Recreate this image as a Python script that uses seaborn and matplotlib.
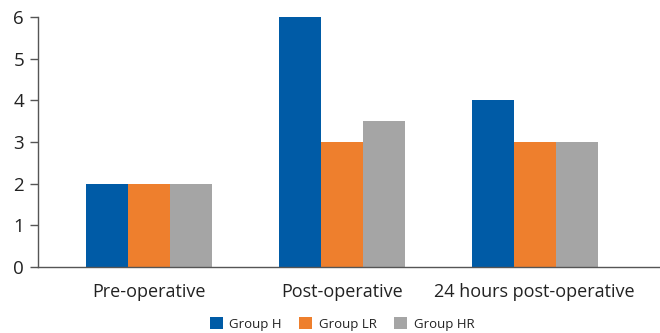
import matplotlib
matplotlib.use("Agg")
import matplotlib.pyplot as plt
import seaborn as sns
import pandas as pd
from matplotlib.patches import Patch

categories = ["Pre-operative", "Post-operative", "24 hours post-operative"]
groups = ["Group H", "Group LR", "Group HR"]
group_h = [2, 6, 4]
group_lr = [2, 3, 3]
group_hr = [2, 3.5, 3]
colors = ["#005BA6", "#EE7F2D", "#A5A5A5"]

rows = []
for g, vals in zip(groups, [group_h, group_lr, group_hr]):
    for c, v in zip(categories, vals):
        rows.append({"Time": c, "Group": g, "Value": v})
df = pd.DataFrame(rows)

sns.set_style("white")
plt.rcParams["font.family"] = ["Open Sans", "DejaVu Sans"]

fig = plt.figure(figsize=(6.6, 3.33), dpi=100)
ax = fig.add_axes([38 / 660, 66 / 333, 622 / 660, 250 / 333])

sns.barplot(data=df, x="Time", y="Value", hue="Group", order=categories,
            hue_order=groups, palette=colors, width=0.653, saturation=1,
            linewidth=0, edgecolor="none", ax=ax, legend=False)

ax.set_xlim(-0.575, 2.65)
ax.set_ylim(0, 6)
ax.set_yticks(range(0, 7))
ax.set_xlabel("")
ax.set_ylabel("")
for s in ["top", "right"]:
    ax.spines[s].set_visible(False)
for s in ["left", "bottom"]:
    ax.spines[s].set_color("#555555")
    ax.spines[s].set_linewidth(1.0)
ax.tick_params(axis="y", left=True, length=6, width=1, color="#555555",
               labelsize=13.5, labelcolor="#222222", pad=4)
ax.tick_params(axis="x", bottom=False, labelsize=13, labelcolor="#222222", pad=8)

handles = [Patch(facecolor=c, edgecolor="none", label=g) for g, c in zip(groups, colors)]
fig.legend(handles=handles, loc="center", bbox_to_anchor=(342 / 660, 9 / 333),
           ncol=3, frameon=False, fontsize=9.5, handlelength=1.0, handleheight=1.0,
           handletextpad=0.5, columnspacing=1.3, labelcolor="#222222")

fig.savefig("out.png", dpi=100)
